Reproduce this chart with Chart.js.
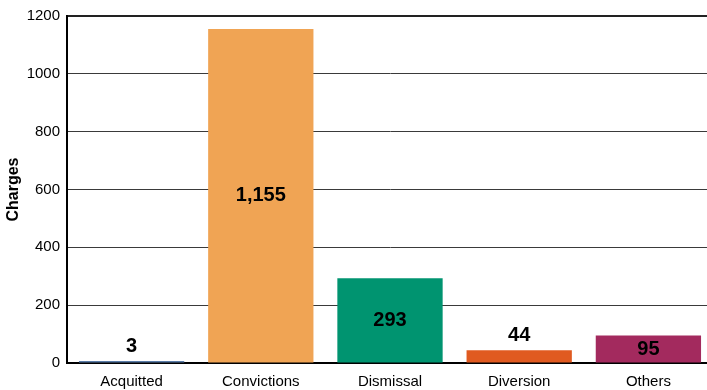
<!DOCTYPE html>
<html>
<head>
<meta charset="utf-8">
<script src="https://cdn.jsdelivr.net/npm/chart.js@4"></script>
<style>
    html, body { margin: 0; padding: 0; background: #fff; overflow: hidden; }
    #wrap { width: 713px; height: 390px; }
</style>
</head>
<body>
<div id="wrap"><canvas id="chart"></canvas></div>
<script>
// Data
const categories = ['Acquitted', 'Convictions', 'Dismissal', 'Diversion', 'Others'];
const charges = [3, 1155, 293, 44, 95];
const barColors = ['#5a7ca8', '#f0a454', '#009470', '#e05a20', '#a32a5e'];
const yTicks = [0, 200, 400, 600, 800, 1000, 1200];

const FONT = '"Liberation Sans", Arial, sans-serif';

// Value labels: inside the bar when it is tall enough, above it otherwise
const valueLabels = {
    id: 'valueLabels',
    afterDatasetsDraw(chart) {
        const ctx = chart.ctx;
        const meta = chart.getDatasetMeta(0);
        ctx.save();
        ctx.font = 'bold 20px ' + FONT;
        ctx.fillStyle = '#000';
        ctx.textAlign = 'center';
        ctx.textBaseline = 'middle';
        meta.data.forEach((bar, i) => {
            const h = bar.base - bar.y;
            const y = h > 22 ? (bar.y + bar.base) / 2 : bar.y - 15;
            ctx.fillText(charges[i].toLocaleString('en-US'), bar.x, y);
        });
        ctx.restore();
    }
};

new Chart(document.getElementById('chart').getContext('2d'), {
    type: 'bar',
    data: {
        labels: categories,
        datasets: [{
            data: charges,
            backgroundColor: barColors,
            barPercentage: 0.815,
            categoryPercentage: 1.0,
            minBarLength: 2
        }]
    },
    options: {
        responsive: true,
        maintainAspectRatio: false,
        animation: false,
        layout: { padding: { top: 14, right: 0, left: 4, bottom: -11 } },
        plugins: {
            legend: { display: false },
            tooltip: { enabled: false }
        },
        scales: {
            x: {
                grid: { display: false, drawTicks: false, tickLength: 0 },
                border: { color: '#000', width: 2 },
                ticks: {
                    color: '#000',
                    padding: 10,
                    font: { family: FONT, size: 15 }
                }
            },
            y: {
                min: 0,
                max: 1200,
                afterBuildTicks: axis => { axis.ticks = yTicks.map(v => ({ value: v })); },
                afterFit: axis => { axis.width = 63; },
                grid: {
                    color: ctx => ctx.tick && ctx.tick.value === 1200 ? '#222' : '#3a3a3a',
                    lineWidth: ctx => ctx.tick && ctx.tick.value === 1200 ? 2 : 1,
                    drawTicks: false
                },
                border: { color: '#000', width: 2 },
                ticks: {
                    color: '#000',
                    padding: 7,
                    callback: v => String(v),
                    font: { family: FONT, size: 15 }
                },
                title: {
                    display: true,
                    text: 'Charges',
                    color: '#000',
                    padding: { top: 0, bottom: 0 },
                    font: { family: FONT, size: 16, weight: 'bold' }
                }
            }
        }
    },
    plugins: [valueLabels]
});
</script>
</body>
</html>
